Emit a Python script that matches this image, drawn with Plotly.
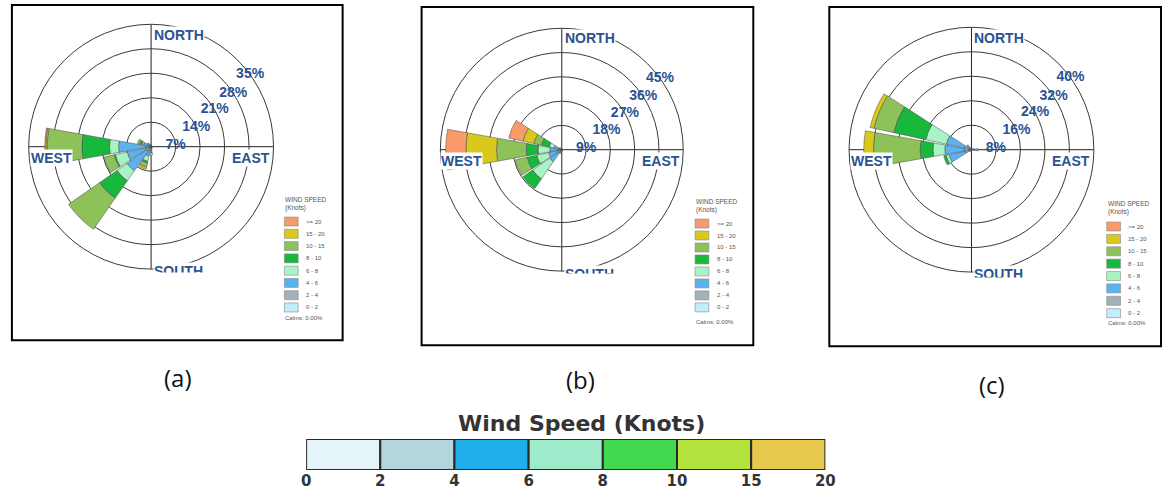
import plotly.graph_objects as go

W, H = 1172, 490

# ---------------- data ----------------
directions = ['N', 'NNE', 'NE', 'ENE', 'E', 'ESE', 'SE', 'SSE',
              'S', 'SSW', 'SW', 'WSW', 'W', 'WNW', 'NW', 'NNW']
dir_angles = [0, 22.5, 45, 67.5, 90, 112.5, 135, 157.5,
              180, 202.5, 225, 247.5, 270, 292.5, 315, 337.5]

speed_bins = ['0 - 2', '2 - 4', '4 - 6', '6 - 8', '8 - 10', '10 - 15', '15 - 20', '>= 20']
speed_colors = ['#c2eefc', '#a3b2ba', '#5ab2ee', '#a8f4c4', '#17b83b', '#8dc25a', '#d9c91c', '#f89a6a']

#            N    NNE  NE   ENE  E    ESE  SE   SSE  S    SSW  SW    WSW  W    WNW  NW   NNW
a_0_2   = [0.2, 0.1, 0.1, 0.1, 0.1, 0.1, 0.1, 0.2, 0.4, 0.5, 0.6,  0.6, 0.5, 0.4, 0.3, 0.3]
a_2_4   = [0.2, 0.1, 0.1, 0.1, 0.2, 0.1, 0.1, 0.3, 0.6, 0.8, 1.0,  1.0, 1.0, 0.6, 0.5, 0.3]
a_4_6   = [0.1, 0.0, 0.0, 0.0, 0.1, 0.0, 0.0, 0.2, 0.8, 1.5, 6.8,  5.4, 7.8, 1.2, 0.4, 0.2]
a_6_8   = [0.0, 0.0, 0.0, 0.0, 0.0, 0.0, 0.0, 0.0, 0.6, 1.5, 3.5,  3.5, 2.6, 0.5, 0.2, 0.0]
a_8_10  = [0.0, 0.0, 0.0, 0.0, 0.0, 0.0, 0.0, 0.0, 0.0, 0.5, 6.1,  0.3, 7.9, 0.6, 0.0, 0.0]
a_10_15 = [0.0, 0.0, 0.0, 0.0, 0.0, 0.0, 0.0, 0.0, 0.0, 1.2, 10.8, 3.0, 9.9, 0.7, 0.0, 0.0]
a_15_20 = [0.0, 0.0, 0.0, 0.0, 0.0, 0.0, 0.0, 0.0, 0.0, 0.6, 0.0,  0.0, 0.4, 0.0, 0.0, 0.0]
a_20    = [0.0, 0.0, 0.0, 0.0, 0.0, 0.0, 0.0, 0.0, 0.0, 0.0, 0.0,  0.0, 0.3, 0.0, 0.0, 0.0]

b_0_2   = [0.2, 0.1, 0.1, 0.1, 0.1, 0.1, 0.1, 0.1, 0.2, 0.3, 0.5, 0.5, 0.5,  0.4, 0.3, 0.2]
b_2_4   = [0.2, 0.1, 0.1, 0.1, 0.1, 0.1, 0.1, 0.1, 0.3, 0.5, 1.0, 1.0, 1.0,  0.7, 0.4, 0.2]
b_4_6   = [0.0, 0.0, 0.0, 0.0, 0.0, 0.0, 0.0, 0.0, 0.2, 0.6, 4.0, 3.5, 2.9,  1.8, 0.3, 0.0]
b_6_8   = [0.0, 0.0, 0.0, 0.0, 0.0, 0.0, 0.0, 0.0, 0.0, 0.0, 7.7, 4.5, 4.4,  1.9, 0.0, 0.0]
b_8_10  = [0.0, 0.0, 0.0, 0.0, 0.0, 0.0, 0.0, 0.0, 0.0, 0.0, 4.4, 3.7, 4.4,  2.9, 0.0, 0.0]
b_10_15 = [0.0, 0.0, 0.0, 0.0, 0.0, 0.0, 0.0, 0.0, 0.0, 0.0, 0.0, 4.4, 11.0, 2.9, 0.0, 0.0]
b_15_20 = [0.0, 0.0, 0.0, 0.0, 0.0, 0.0, 0.0, 0.0, 0.0, 0.0, 0.0, 0.0, 11.3, 4.1, 0.0, 0.0]
b_20    = [0.0, 0.0, 0.0, 0.0, 0.0, 0.0, 0.0, 0.0, 0.0, 0.0, 0.0, 0.0, 7.5,  5.4, 0.0, 0.0]

c_0_2   = [0.2, 0.1, 0.1, 0.2, 0.3, 0.1, 0.1, 0.1, 0.1, 0.1, 0.2, 0.8, 0.8,  0.8,  0.4, 0.2]
c_2_4   = [0.2, 0.1, 0.1, 0.3, 0.7, 0.1, 0.1, 0.1, 0.1, 0.1, 0.3, 1.2, 1.6,  1.6,  0.8, 0.3]
c_4_6   = [0.0, 0.0, 0.0, 0.3, 1.2, 0.0, 0.0, 0.0, 0.0, 0.0, 0.3, 5.5, 6.3,  6.0,  0.8, 0.2]
c_6_8   = [0.0, 0.0, 0.0, 0.0, 0.0, 0.0, 0.0, 0.0, 0.0, 0.0, 0.0, 1.0, 3.9,  6.9,  0.0, 0.0]
c_8_10  = [0.0, 0.0, 0.0, 0.0, 0.0, 0.0, 0.0, 0.0, 0.0, 0.0, 0.0, 0.8, 4.2,  10.7, 0.0, 0.0]
c_10_15 = [0.0, 0.0, 0.0, 0.0, 0.0, 0.0, 0.0, 0.0, 0.0, 0.0, 0.0, 0.0, 15.2, 6.6,  0.0, 0.0]
c_15_20 = [0.0, 0.0, 0.0, 0.0, 0.0, 0.0, 0.0, 0.0, 0.0, 0.0, 0.0, 0.0, 3.2,  1.3,  0.0, 0.0]
c_20    = [0.0] * 16

freq_a = [a_0_2, a_2_4, a_4_6, a_6_8, a_8_10, a_10_15, a_15_20, a_20]
freq_b = [b_0_2, b_2_4, b_4_6, b_6_8, b_8_10, b_10_15, b_15_20, b_20]
freq_c = [c_0_2, c_2_4, c_4_6, c_6_8, c_8_10, c_10_15, c_15_20, c_20]

ring_step_a, ring_step_b, ring_step_c = 7, 9, 8
ring_label_theta = [88, 67, 60, 57, 54]
calms_text = 'Calms: 0.00%'

cb_ticks = ['0', '2', '4', '6', '8', '10', '15', '20']
cb_colors = ['#e4f4f8', '#b2d6dc', '#1faeea', '#9eeacb', '#40d94f', '#b3e33d', '#e6c84c']

# ---------------- layout helpers ----------------
def fx(px):
    return px / W


def fy(py):
    return 1 - py / H


panels = [
    dict(freq=freq_a, step=ring_step_a, cx=148, cy=147, R=124, box=(7, 5, 342, 341),
         leg=dict(x=283, title=194, first=222, dy=12.3, calms=319), lab=('(a)', 175, 378), sclip=126),
    dict(freq=freq_b, step=ring_step_b, cx=564, cy=150, R=123, box=(422, 7, 758, 346),
         leg=dict(x=699, title=196, first=224, dy=12.0, calms=323), lab=('(b)', 583, 380), sclip=124),
    dict(freq=freq_c, step=ring_step_c, cx=979, cy=150, R=124, box=(835, 7, 1171, 347),
         leg=dict(x=1116, title=198, first=227, dy=12.4, calms=324), lab=('(c)', 1000, 385), sclip=128),
]

fig = go.Figure()
shapes = []
annotations = []
label_blue = '#2a5392'
dir_font = dict(family='Liberation Sans, Arial', size=14, color=label_blue, weight='bold')

for i, p in enumerate(panels):
    pid = 'polar' if i == 0 else f'polar{i+1}'
    rmax = p['step'] * 5
    ticks = [p['step'] * k for k in range(1, 6)]
    for k, (name, col) in enumerate(zip(speed_bins, speed_colors)):
        fig.add_trace(go.Barpolar(
            r=p['freq'][k], theta=dir_angles, name=name, subplot=pid,
            marker=dict(color=col, line=dict(color='#4a4a4a', width=0.5)),
            showlegend=False, hoverinfo='skip'))
    fig.add_trace(go.Scatterpolar(
        r=ticks, theta=ring_label_theta, mode='text', subplot=pid,
        text=[f'{t}%' for t in ticks],
        textfont=dict(family='Liberation Sans, Arial', size=14, color=label_blue, weight='bold'),
        showlegend=False, hoverinfo='skip'))
    cx, cy, R = p['cx'], p['cy'], p['R']
    fig.layout[pid] = dict(
        domain=dict(x=[fx(cx - R), fx(cx + R)], y=[fy(cy + R), fy(cy - R)]),
        bgcolor='white', barmode='stack',
        radialaxis=dict(range=[0, rmax], tickvals=ticks, showticklabels=False, ticks='',
                        showline=False, gridcolor='#3a3a3a', gridwidth=1, layer='below traces'),
        angularaxis=dict(rotation=90, direction='clockwise', dtick=90, showticklabels=False,
                         ticks='', showline=True, linecolor='#3a3a3a', linewidth=1,
                         gridcolor='#222', gridwidth=1.4, layer='below traces'),
    )
    # frame
    x0, y0, x1, y1 = p['box']
    shapes.append(dict(type='rect', xref='paper', yref='paper', x0=fx(x0), x1=fx(x1), y0=fy(y1), y1=fy(y0),
                       line=dict(color='black', width=2), fillcolor='rgba(0,0,0,0)', layer='above'))
    # compass labels
    annotations += [
        dict(text='NORTH', x=fx(cx + 2), y=fy(cy - 112), xanchor='left', yanchor='middle'),
        dict(text='EAST', x=fx(cx + 121), y=fy(cy + 11), xanchor='right', yanchor='middle'),
        dict(text='WEST', x=fx(cx - 123), y=fy(cy + 11), xanchor='left', yanchor='middle'),
        dict(text='SOUTH', x=fx(cx + 2), y=fy(cy + 116), xanchor='left', yanchor='top'),
    ]
    for a in annotations[-4:]:
        a.update(xref='paper', yref='paper', showarrow=False, font=dir_font, bgcolor='white', borderpad=0)
    # clip of the SOUTH label (image cropped there)
    annotations.append(dict(text=' ', x=fx(cx - 4), y=fy(cy + p['sclip']), xref='paper', yref='paper',
                            xanchor='left', yanchor='top', width=64, height=14, bgcolor='white',
                            showarrow=False, borderpad=0))
    # legend
    L = p['leg']
    annotations.append(dict(text='WIND SPEED<br>(Knots)', x=fx(L['x'] - 1), y=fy(L['title']), xref='paper',
                            yref='paper', xanchor='left', yanchor='top', align='left', showarrow=False,
                            font=dict(family='Liberation Sans, Arial', size=6.5, color='#555')))
    for j, k in enumerate(range(len(speed_bins) - 1, -1, -1)):
        yc = L['first'] + j * L['dy']
        shapes.append(dict(type='rect', xref='paper', yref='paper', x0=fx(L['x']), x1=fx(L['x'] + 14),
                           y0=fy(yc + 4.5), y1=fy(yc - 4.5), fillcolor=speed_colors[k],
                           line=dict(color='#888', width=0.6), layer='above'))
        annotations.append(dict(text=speed_bins[k], x=fx(L['x'] + 20), y=fy(yc), xref='paper', yref='paper',
                                xanchor='left', yanchor='middle', showarrow=False,
                                font=dict(family='Liberation Sans, Arial', size=6, color='#555')))
    annotations.append(dict(text=calms_text, x=fx(L['x'] - 1), y=fy(L['calms']), xref='paper', yref='paper',
                            xanchor='left', yanchor='middle', showarrow=False,
                            font=dict(family='Liberation Sans, Arial', size=6, color='#555')))
    # panel label
    t, lx, ly = p['lab']
    annotations.append(dict(text=t, x=fx(lx), y=fy(ly), xref='paper', yref='paper', showarrow=False,
                            xanchor='center', yanchor='middle',
                            font=dict(family='Open Sans, Lato, sans-serif', size=24, color='#111')))

# ---------------- bottom colour key ----------------
nseg = len(cb_ticks) - 1
fig.add_trace(go.Bar(
    x=[1] * nseg, base=list(range(nseg)), y=[0] * nseg, orientation='h', width=1,
    marker=dict(color=cb_colors, line=dict(color='#2a2a2a', width=2)),
    showlegend=False, hoverinfo='skip', xaxis='x', yaxis='y'))
fig.update_layout(
    xaxis=dict(domain=[fx(305), fx(831)], range=[0, nseg], tickvals=list(range(nseg + 1)), ticktext=cb_ticks,
               showgrid=False, zeroline=False, showline=False, ticks='',
               tickfont=dict(family='DejaVu Sans, Verdana, sans-serif', size=15, color='#333', weight='bold'),
               anchor='y'),
    yaxis=dict(domain=[fy(471), fy(440)], range=[-0.5, 0.5], showgrid=False, zeroline=False,
               showticklabels=False, ticks='', anchor='x'),
)
annotations.append(dict(text='Wind Speed (Knots)', x=fx(584), y=fy(424), xref='paper', yref='paper',
                        showarrow=False, xanchor='center', yanchor='middle',
                        font=dict(family='DejaVu Sans, Verdana, sans-serif', size=22, color='#333', weight='bold')))

# the figure fills the whole browser viewport; all positions are fractions of the page
fig.update_layout(autosize=True, margin=dict(l=0, r=0, t=0, b=0),
                  paper_bgcolor='white', plot_bgcolor='white',
                  shapes=shapes, annotations=annotations, showlegend=False)

page_fix = (
    "document.documentElement.style.cssText='margin:0;padding:0;overflow:hidden;';"
    "document.body.style.cssText='margin:0;padding:0;overflow:hidden;';"
    "var gd=document.getElementById('{plot_id}');gd.style.display='block';"
)
fig.write_html('out.html', config=dict(responsive=True, displayModeBar=False),
               default_width='100vw', default_height='100vh', post_script=page_fix)
